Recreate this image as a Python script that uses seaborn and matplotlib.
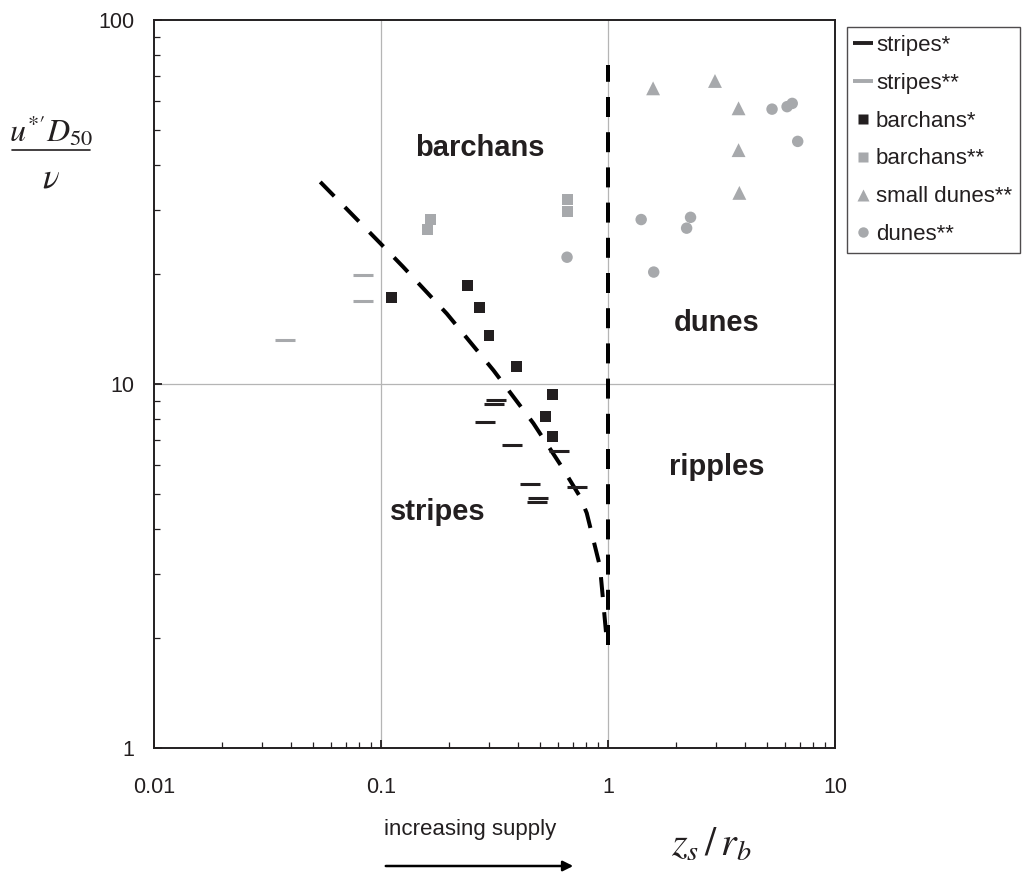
import numpy as np
import pandas as pd
import matplotlib
matplotlib.use("Agg")
import matplotlib.pyplot as plt
import seaborn as sns
from matplotlib.lines import Line2D
from matplotlib.patches import FancyArrowPatch

# ---------------- data ----------------
stripes1_x = [0.320, 0.314, 0.286, 0.376, 0.608, 0.453, 0.730, 0.492, 0.488]
stripes1_y = [9.04, 8.81, 7.86, 6.78, 6.56, 5.32, 5.21, 4.86, 4.75]

stripes2_x = [0.083, 0.083, 0.0378]
stripes2_y = [19.9, 16.9, 13.2]

barchans1_x = [0.111, 0.240, 0.272, 0.299, 0.394, 0.571, 0.530, 0.571]
barchans1_y = [17.3, 18.6, 16.2, 13.6, 11.2, 9.33, 8.13, 7.17]

barchans2_x = [0.166, 0.160, 0.660, 0.660]
barchans2_y = [28.3, 26.5, 32.2, 29.7]

smalldunes_x = [1.58, 2.96, 3.76, 3.76, 3.79]
smalldunes_y = [64.9, 68.0, 57.2, 43.9, 33.5]

dunes_x = [0.66, 5.28, 6.15, 6.48, 6.85, 1.40, 2.31, 2.22, 1.59]
dunes_y = [22.3, 56.9, 57.8, 59.0, 46.4, 28.3, 28.7, 26.8, 20.3]

boundary_x = [0.054, 0.099, 0.125, 0.195, 0.313, 0.469, 0.625, 0.753, 0.806, 0.922, 0.99]
boundary_y = [35.9, 24.4, 21.0, 15.6, 10.9, 7.8, 5.93, 4.9, 4.42, 3.15, 1.94]

vertical_x = [1.0, 1.0]
vertical_y = [1.92, 75.0]

legend_labels = ["stripes*", "stripes**", "barchans*", "barchans**", "small dunes**", "dunes**"]
region_labels = ["barchans", "dunes", "ripples", "stripes"]
region_x = [0.273, 3.02, 3.02, 0.178]
region_y = [44.5, 14.7, 5.91, 4.45]

x_ticks = [0.01, 0.1, 1, 10]
x_ticklabels = ["0.01", "0.1", "1", "10"]
y_ticks = [1, 10, 100]
y_ticklabels = ["1", "10", "100"]

# ---------------- style ----------------
sns.set_theme(style="white")
plt.rcParams['font.family'] = ['Liberation Sans', 'DejaVu Sans']
plt.rcParams['mathtext.fontset'] = 'stix'
plt.rcParams['xtick.direction'] = 'in'
plt.rcParams['ytick.direction'] = 'in'

BLACK = "#231f20"
GRAY = "#a7a9ac"

fig = plt.figure(figsize=(10.25, 8.75), dpi=100)
ax = fig.add_axes([154/1025, 1-748/875, (835-154)/1025, (748-20)/875])
ax.set_xscale("log")
ax.set_yscale("log")

# grid lines only at majors
for gx in [0.1, 1]:
    ax.axvline(gx, color="#b5b5b5", lw=0.9, zorder=0)
ax.axhline(10, color="#b5b5b5", lw=0.9, zorder=0)

lw_line = 4 * 0.72
dash_style = (0, (5.0, 3.8))
sns.lineplot(x=boundary_x, y=boundary_y, ax=ax, color="black", lw=lw_line,
             sort=False, estimator=None, linestyle=dash_style, zorder=3)
sns.lineplot(x=vertical_x, y=vertical_y, ax=ax, color="black", lw=lw_line,
             sort=False, estimator=None, linestyle=dash_style, zorder=3)

# markers
sns.scatterplot(x=stripes1_x, y=stripes1_y, ax=ax, marker="_", s=210,
                color=BLACK, linewidth=2.2, zorder=4)
sns.scatterplot(x=stripes2_x, y=stripes2_y, ax=ax, marker="_", s=210,
                color=GRAY, linewidth=2.2, zorder=4)
sns.scatterplot(x=barchans1_x, y=barchans1_y, ax=ax, marker="s", s=62,
                color=BLACK, edgecolor="none", zorder=4)
sns.scatterplot(x=barchans2_x, y=barchans2_y, ax=ax, marker="s", s=62,
                color=GRAY, edgecolor="none", zorder=4)
sns.scatterplot(x=smalldunes_x, y=smalldunes_y, ax=ax, marker="^", s=100,
                color=GRAY, edgecolor="none", zorder=4)
sns.scatterplot(x=dunes_x, y=dunes_y, ax=ax, marker="o", s=68,
                color=GRAY, edgecolor="none", zorder=4)

for lab, rx, ry in zip(region_labels, region_x, region_y):
    ax.text(rx, ry, lab, ha="center", va="center", fontsize=21,
            fontweight="bold", color=BLACK)

ax.set_xlim(0.01, 10)
ax.set_ylim(1, 100)

# ticks and spines
ax.set_xticks(x_ticks)
ax.set_xticklabels(x_ticklabels)
ax.set_yticks(y_ticks)
ax.set_yticklabels(y_ticklabels)
ax.tick_params(axis="both", which="major", direction="in", length=6, width=1.3,
               labelsize=15.5, colors=BLACK, left=True, bottom=True,
               right=False, top=False)
ax.tick_params(axis="y", which="major", pad=14)
ax.tick_params(axis="x", which="major", pad=21)
ax.tick_params(axis="both", which="minor", direction="in", length=4, width=0.9,
               colors=BLACK, left=True, bottom=True, right=False, top=False)
for sp in ax.spines.values():
    sp.set_visible(True)
    sp.set_color(BLACK)
    sp.set_linewidth(1.4)
ax.grid(False)
ax.set_xlabel("")
ax.set_ylabel("")

# y-axis title as a stacked fraction
fig.text(51/1025, 1-131/875, r"$u^{*\prime}D_{50}$", fontsize=23,
         ha="center", va="center", color=BLACK)
fig.add_artist(Line2D([12/1025, 90/1025], [1-150/875, 1-150/875],
                      transform=fig.transFigure, color=BLACK, lw=1.2))
fig.text(51/1025, 1-178/875, r"$\nu$", fontsize=25,
         ha="center", va="center", color=BLACK)

# x-axis title and supply arrow
fig.text(711/1025, 1-845/875, r"$z_s\,/\,r_b$", fontsize=29,
         ha="center", va="center", color=BLACK)
fig.text(470/1025, 1-829/875, "increasing supply", fontsize=16,
         ha="center", va="center", color=BLACK)
fig.add_artist(FancyArrowPatch(
    (383/1025, 1-866/875), (576/1025, 1-866/875), transform=fig.transFigure,
    arrowstyle="-|>", mutation_scale=15, lw=1.8, color="black"))

# legend
handles = [
    Line2D([], [], color=BLACK, marker="_", ls="none", markersize=14, mew=2.8),
    Line2D([], [], color=GRAY, marker="_", ls="none", markersize=14, mew=2.8),
    Line2D([], [], color=BLACK, marker="s", ls="none", markersize=7, mec="none"),
    Line2D([], [], color=GRAY, marker="s", ls="none", markersize=7, mec="none"),
    Line2D([], [], color=GRAY, marker="^", ls="none", markersize=8.5, mec="none"),
    Line2D([], [], color=GRAY, marker="o", ls="none", markersize=7.5, mec="none"),
]
leg = fig.legend(handles, legend_labels, loc="upper left",
                 bbox_to_anchor=(847/1025, 1-27/875), frameon=True, fancybox=False,
                 edgecolor=BLACK, fontsize=16, handlelength=0.7, handletextpad=0.25,
                 labelspacing=0.76, borderpad=0.35, borderaxespad=0)
leg.get_frame().set_linewidth(1.0)
for t in leg.get_texts():
    t.set_color(BLACK)

fig.savefig("out.png", dpi=100)
